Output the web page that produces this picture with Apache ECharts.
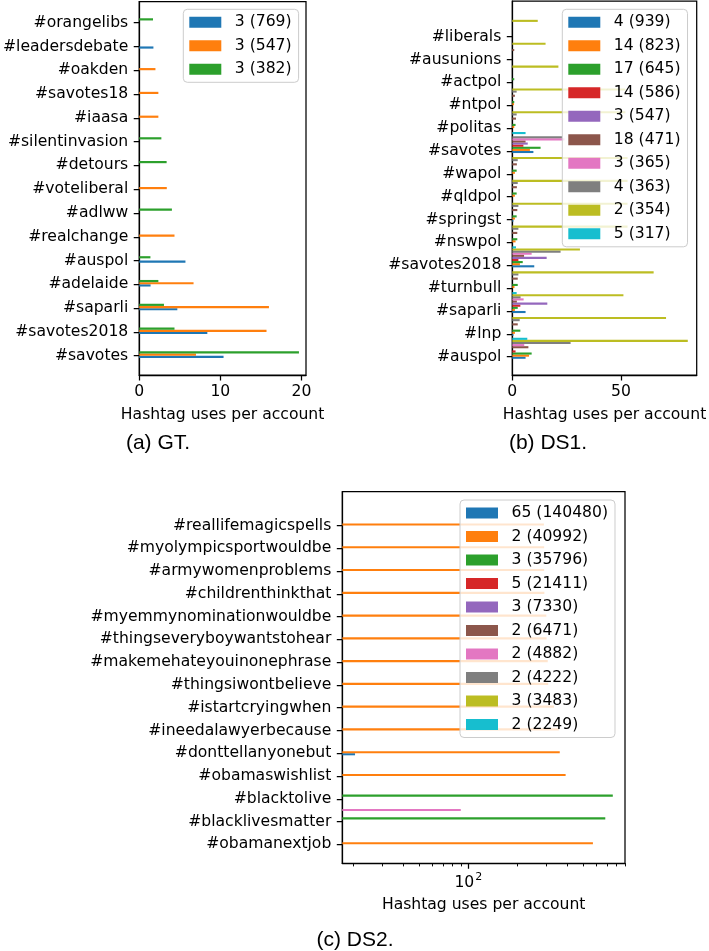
<!DOCTYPE html>
<html><head><meta charset="utf-8">
<script src="https://cdn.jsdelivr.net/npm/echarts@6/dist/echarts.min.js"></script>
<style>html,body{margin:0;padding:0;background:#fff}#c{width:709px;height:951px}</style>
</head><body><div id="c"></div>
<script>
// tab10 palette
const COLORS = ['#1f77b4','#ff7f0e','#2ca02c','#d62728','#9467bd','#8c564b','#e377c2','#7f7f7f','#bcbd22','#17becf'];

// ---------- (a) GT ---------- (categories listed bottom -> top)
const gtCategories = ['#savotes','#savotes2018','#saparli','#adelaide','#auspol','#realchange','#adlww','#voteliberal','#detours','#silentinvasion','#iaasa','#savotes18','#oakden','#leadersdebate','#orangelibs'];
const gtSeriesNames = ['3 (769)','3 (547)','3 (382)'];
const gtS0 = [10.4, 8.4, 4.7, 1.4, 5.7, 0, 0, 0, 0, 0, 0, 0, 0, 1.75, 0];
const gtS1 = [7.0, 15.7, 16.0, 6.7, 0, 4.35, 0, 3.4, 0, 0, 2.36, 2.36, 2.0, 0, 0];
const gtS2 = [19.7, 4.35, 3.05, 2.36, 1.38, 0, 4.03, 0, 3.38, 2.73, 0, 0, 0, 0, 1.7];
const gtXTicks = [0, 10, 20];

// ---------- (b) DS1 ----------
const ds1Categories = ['#auspol','#lnp','#saparli','#turnbull','#savotes2018','#nswpol','#springst','#qldpol','#wapol','#savotes','#politas','#ntpol','#actpol','#ausunions','#liberals'];
const ds1SeriesNames = ['4 (939)','14 (823)','17 (645)','14 (586)','3 (547)','18 (471)','3 (365)','4 (363)','2 (354)','5 (317)'];
const ds1S0 = [6.1, 0.5, 6.1, 0, 10.1, 0, 0.5, 0, 0, 9.7, 0, 0, 0, 0, 0];
const ds1S1 = [7.7, 1.2, 1.2, 1.0, 3.5, 1.5, 1.2, 1.2, 1.2, 8.1, 0.9, 0.8, 0, 0, 0];
const ds1S2 = [8.9, 3.7, 2.5, 2.5, 4.8, 2.3, 2.0, 2.0, 2.0, 13.0, 1.5, 0.9, 0.9, 0, 0];
const ds1S3 = [1.5, 0, 3.7, 0, 2.8, 0, 0, 0, 0, 5.1, 0, 0, 0, 0, 0];
const ds1S4 = [0, 0, 16.1, 0, 15.8, 0, 0, 0, 0, 7.1, 0, 0, 0, 0, 0];
const ds1S5 = [7.4, 2.5, 2.1, 2.5, 5.4, 2.3, 2.3, 2.1, 2.1, 6.1, 1.7, 1.2, 0, 0.9, 0];
const ds1S6 = [5.5, 0, 5.2, 0, 8.9, 0, 0, 0, 0, 24, 0, 0, 0, 0, 0];
const ds1S7 = [26.8, 3.4, 3.8, 2.8, 22.2, 2.8, 2.8, 2.5, 2.5, 23, 2.0, 2.0, 0, 0, 0];
const ds1S8 = [80.7, 70.7, 51.1, 65, 31.1, 53, 53, 53, 53, 0, 52, 52, 21.2, 15.3, 11.7];
const ds1S9 = [6.9, 0, 2.0, 0, 1.7, 0, 0, 0, 0, 6.1, 0, 0, 0, 0, 0];
const ds1XTicks = [0, 50];

// ---------- (c) DS2 ----------
const ds2Categories = ['#obamanextjob','#blacklivesmatter','#blacktolive','#obamaswishlist','#donttellanyonebut','#ineedalawyerbecause','#istartcryingwhen','#thingsiwontbelieve','#makemehateyouinonephrase','#thingseveryboywantstohear','#myemmynominationwouldbe','#childrenthinkthat','#armywomenproblems','#myolympicsportwouldbe','#reallifemagicspells'];
const ds2SeriesNames = ['65 (140480)','2 (40992)','3 (35796)','5 (21411)','3 (7330)','2 (6471)','2 (4882)','2 (4222)','3 (3483)','2 (2249)'];
const ds2S0 = [0, 0, 0, 0, 20.4, 0, 0, 0, 0, 0, 0, 0, 0, 0, 0];
const ds2S1 = [575, 0, 0, 392, 361, 356, 333, 307, 305, 300, 299, 291, 290, 290, 289];
const ds2S2 = [0, 684, 760, 0, 0, 0, 0, 0, 0, 0, 0, 0, 0, 0, 0];
const ds2S3 = [0, 0, 0, 0, 0, 0, 0, 0, 0, 0, 0, 0, 0, 0, 0];
const ds2S4 = [0, 0, 0, 0, 0, 0, 0, 0, 0, 0, 0, 0, 0, 0, 0];
const ds2S5 = [0, 0, 0, 0, 0, 0, 0, 0, 0, 0, 0, 0, 0, 0, 0];
const ds2S6 = [0, 90, 0, 0, 0, 0, 0, 0, 0, 0, 0, 0, 0, 0, 0];
const ds2S7 = [0, 0, 0, 0, 0, 0, 0, 0, 0, 0, 0, 0, 0, 0, 0];
const ds2S8 = [0, 0, 0, 0, 0, 0, 0, 0, 0, 0, 0, 0, 0, 0, 0];
const ds2S9 = [0, 0, 0, 0, 0, 0, 0, 0, 0, 0, 0, 0, 0, 0, 0];
const ds2MajorTicks = [100];
const ds2MinorTicks = [20, 30, 40, 50, 60, 70, 80, 90, 200, 300, 400, 500, 600, 700, 800, 900];

// ---------- styling ----------
const FONT = 'DejaVu Sans';
const FS = 15.6;
const STEP = 0.092;   // bar thickness / offset between series, in category units
const OFF = 0.045;

const grids = [
  {left: 137.3, top: 1.5, width: 168.7, height: 373.5},
  {left: 512.3, top: 1, width: 184.4, height: 374},
  {left: 342.3, top: 491.7, width: 282.7, height: 371.6}
].map(g => Object.assign(g, {show: true, borderColor: '#000', borderWidth: 1.25, backgroundColor: 'transparent'}));

const axisLineStyle = {show: true, onZero: false, lineStyle: {color: '#000', width: 1.25}};
const tickStyle = (vals, len) => ({show: true, customValues: vals, length: len || 5.5, lineStyle: {color: '#000', width: 1.25}});
const labelStyle = (vals, margin, fmt) => ({show: true, customValues: vals, margin: margin, color: '#000', fontFamily: FONT, fontSize: FS, formatter: fmt});
const nameStyle = {color: '#000', fontFamily: FONT, fontSize: FS};

function yAxisFor(gi, cats, min, max) {
  const idx = cats.map((c, i) => i);
  return {
    gridIndex: gi, type: 'value', min: min, max: max, position: 'left',
    axisLine: axisLineStyle, splitLine: {show: false},
    axisTick: tickStyle(idx),
    axisLabel: labelStyle(idx, 11, v => cats[Math.round(v)])
  };
}

const logLabel = labelStyle(ds2MajorTicks, 6, v => '{b|10}{s|2}');
logLabel.lineHeight = 22;
logLabel.rich = {
  b: {fontFamily: FONT, fontSize: FS, color: '#000', verticalAlign: 'bottom', lineHeight: 22},
  s: {fontFamily: FONT, fontSize: 11, color: '#000', verticalAlign: 'top', lineHeight: 14, padding: [2, 0, 0, 1]}
};

const xAxes = [
  {gridIndex: 0, type: 'value', position: 'bottom', min: 0, max: 20.57, axisLine: axisLineStyle, splitLine: {show: false},
   axisTick: tickStyle(gtXTicks), axisLabel: labelStyle(gtXTicks, 8.5),
   name: 'Hashtag uses per account', nameLocation: 'middle', nameGap: 32, nameTextStyle: nameStyle},
  {gridIndex: 1, type: 'value', position: 'bottom', min: 0, max: 84.8, axisLine: axisLineStyle, splitLine: {show: false},
   axisTick: tickStyle(ds1XTicks), axisLabel: labelStyle(ds1XTicks, 8.5),
   name: 'Hashtag uses per account', nameLocation: 'middle', nameGap: 32, nameTextStyle: nameStyle},
  {gridIndex: 2, type: 'log', logBase: 10, position: 'bottom', min: 17.06, max: 902, axisLine: axisLineStyle, splitLine: {show: false},
   axisTick: tickStyle(ds2MajorTicks), axisLabel: logLabel,
   name: 'Hashtag uses per account', nameLocation: 'middle', nameGap: 34, nameTextStyle: nameStyle},
  {gridIndex: 2, type: 'log', logBase: 10, position: 'bottom', offset: 0, min: 17.06, max: 902,
   axisLine: {show: false, onZero: false}, splitLine: {show: false},
   axisTick: {show: true, customValues: ds2MinorTicks, length: 3.1, lineStyle: {color: '#000', width: 0.95}},
   axisLabel: {show: false}}
];

const yAxes = [
  yAxisFor(0, gtCategories, -0.81, 14.89),
  yAxisFor(1, ds1Categories, -0.80, 15.56),
  yAxisFor(2, ds2Categories, -0.835, 15.49)
];

function makeRender(k, xStart) {
  return function (params, api) {
    const v = api.value(0), idx = api.value(1);
    if (!(v > 0)) return null;
    const yc = idx + STEP * k - OFF;
    const p0 = api.coord([xStart, yc + STEP / 2]);
    const p1 = api.coord([v, yc - STEP / 2]);
    return {type: 'rect', shape: {x: p0[0], y: p0[1], width: p1[0] - p0[0], height: p1[1] - p0[1]},
            style: {fill: api.visual('color')}};
  };
}

function panelSeries(gi, names, arrays, xStart) {
  return arrays.map((arr, k) => ({
    type: 'custom', name: names[k], xAxisIndex: gi, yAxisIndex: gi,
    data: arr.map((v, i) => [v, i]), encode: {x: 0, y: 1},
    itemStyle: {color: COLORS[k]}, renderItem: makeRender(k, xStart),
    silent: true, animation: false, z: 2
  }));
}

const series = [].concat(
  panelSeries(0, gtSeriesNames, [gtS0, gtS1, gtS2], 0),
  panelSeries(1, ds1SeriesNames, [ds1S0, ds1S1, ds1S2, ds1S3, ds1S4, ds1S5, ds1S6, ds1S7, ds1S8, ds1S9], 0),
  panelSeries(2, ds2SeriesNames, [ds2S0, ds2S1, ds2S2, ds2S3, ds2S4, ds2S5, ds2S6, ds2S7, ds2S8, ds2S9], 17.06)
);

function legendFor(names, left, top) {
  return {
    data: names.map((n, i) => ({name: n, itemStyle: {color: COLORS[i], borderWidth: 0}})),
    orient: 'vertical', left: left, top: top, icon: 'rect', itemWidth: 32, itemHeight: 11, itemGap: 7.5,
    padding: [5, 7, 5, 6], backgroundColor: 'rgba(255,255,255,0.8)', borderColor: '#cccccc', borderWidth: 1,
    borderRadius: 4, selectedMode: false, z: 10,
    textStyle: {fontFamily: FONT, fontSize: FS, color: '#000', lineHeight: 16, padding: [0, 0, 0, 8.5]}
  };
}

const captionStyle = t => ({text: t, fontFamily: 'Liberation Sans', fontSize: 21, fill: '#000', align: 'center', verticalAlign: 'top'});

const option = {
  animation: false,
  backgroundColor: '#fff',
  grid: grids,
  xAxis: xAxes,
  yAxis: yAxes,
  legend: [
    legendFor(gtSeriesNames, 183.3, 9.3),
    legendFor(ds1SeriesNames, 562.3, 9.3),
    legendFor(ds2SeriesNames, 460, 500)
  ],
  series: series,
  graphic: [
    {type: 'text', x: 158, y: 433, style: captionStyle('(a) GT.')},
    {type: 'text', x: 548, y: 433, style: captionStyle('(b) DS1.')},
    {type: 'text', x: 355, y: 930, style: captionStyle('(c) DS2.')}
  ]
};

const chart = echarts.init(document.getElementById('c'), null, {renderer: 'canvas'});
chart.setOption(option);
</script>
</body></html>
